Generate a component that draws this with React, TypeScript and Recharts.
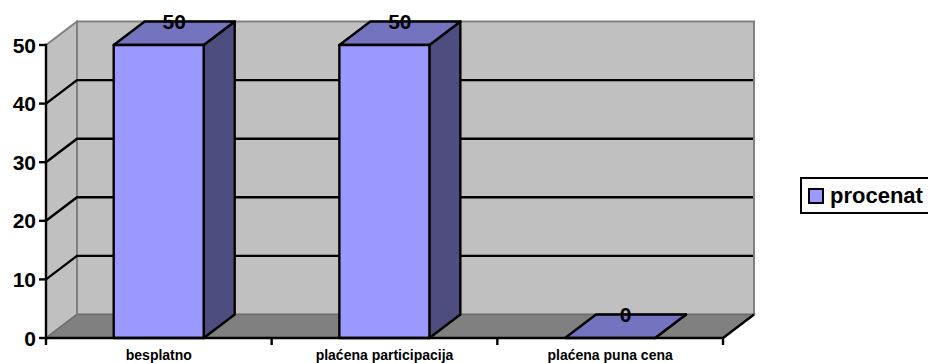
import React from 'react';
import * as Recharts from 'recharts';
import { BarChart, Bar, XAxis, YAxis, CartesianGrid, Legend, LabelList, usePlotArea } from 'recharts';

const ZLayer: any = (Recharts as any).ZIndexLayer;

const categories = ['besplatno', 'plaćena participacija', 'plaćena puna cena'];
const procenat = [50, 50, 0];
const yTicks = [0, 10, 20, 30, 40, 50];
const gridValues = [10, 20, 30, 40];
const rows = categories.map((name, i) => ({ name, procenat: procenat[i] }));

const DX = 31;
const DY = -23.5;
const LW = 2.4;
const FONT = '"Liberation Sans", Arial, sans-serif';

const Walls = () => {
  const a = usePlotArea();
  if (!a) return null;
  const { x, y, width: w, height: h } = a;
  const b = y + h;
  const r = x + w;
  const g = (
    <g>
      <polygon points={`${x},${y} ${x + DX},${y + DY} ${x + DX},${b + DY} ${x},${b}`} fill="#c0c0c0" stroke="#808080" strokeWidth={2} />
      <polygon points={`${x + DX},${y + DY} ${r + DX},${y + DY} ${r + DX},${b + DY} ${x + DX},${b + DY}`} fill="#c0c0c0" stroke="#808080" strokeWidth={2} />
      <polygon points={`${x},${b} ${x + DX},${b + DY} ${r + DX},${b + DY} ${r},${b}`} fill="#808080" stroke="#6e6e6e" strokeWidth={1.5} />
      <line x1={r} y1={b} x2={r + DX} y2={b + DY} stroke="#000" strokeWidth={LW} />
    </g>
  );
  return ZLayer ? <ZLayer zIndex={-200}>{g}</ZLayer> : g;
};

const FrontAxisLine = () => {
  const a = usePlotArea();
  if (!a) return null;
  const g = <line x1={a.x} y1={a.y - LW / 2} x2={a.x} y2={a.y + a.height + LW / 2} stroke="#000" strokeWidth={LW} />;
  return ZLayer ? <ZLayer zIndex={650}>{g}</ZLayer> : g;
};

const gridLine = (p: any) => {
  const { x1, x2, y1 } = p;
  return (
    <polyline
      key={p.key}
      points={`${x1},${y1} ${x1 + DX},${y1 + DY} ${x2 + DX - 1},${y1 + DY}`}
      fill="none"
      stroke="#000"
      strokeWidth={LW}
    />
  );
};

const Box3D = (p: any) => {
  const { x, y, width: w, height: h } = p;
  const r = x + w;
  const b = y + h;
  return (
    <g stroke="#000" strokeWidth={LW} strokeLinejoin="round">
      <polygon points={`${r},${y} ${r + DX},${y + DY} ${r + DX},${b + DY} ${r},${b}`} fill="#4d4d80" />
      <polygon points={`${x},${y} ${x + DX},${y + DY} ${r + DX},${y + DY} ${r},${y}`} fill="#7373bf" />
      <rect x={x} y={y} width={w} height={h} fill="#9999ff" />
    </g>
  );
};

const ValueLabel = (p: any) => {
  const { x, y, width: w, value } = p;
  return (
    <text
      x={x + w / 2 + DX / 2}
      y={y + DY}
      textAnchor="middle"
      dominantBaseline="central"
      fontFamily={FONT}
      fontWeight="bold"
      fontSize={21}
      fill="#000"
    >
      {value}
    </text>
  );
};

const CategoryTick = (p: any) => {
  const { x, payload, width, axisY } = p;
  const band = width / categories.length;
  const last = payload.index === categories.length - 1;
  return (
    <g>
      <line x1={x - band / 2} y1={axisY} x2={x - band / 2} y2={axisY + 7} stroke="#000" strokeWidth={LW} />
      {last && <line x1={x + band / 2} y1={axisY} x2={x + band / 2} y2={axisY + 7} stroke="#000" strokeWidth={LW} />}
      <text x={x} y={axisY + 17} textAnchor="middle" dominantBaseline="central" fontFamily={FONT} fontWeight="bold" fontSize={14} fill="#000">
        {payload.value}
      </text>
    </g>
  );
};

const ValueTick = (p: any) => {
  const { y, payload, axisX } = p;
  return (
    <g>
      <line x1={axisX - 7} y1={y} x2={axisX} y2={y} stroke="#000" strokeWidth={LW} />
      <text x={axisX - 10} y={y} textAnchor="end" dominantBaseline="central" fontFamily={FONT} fontWeight="bold" fontSize={21} fill="#000">
        {payload.value}
      </text>
    </g>
  );
};

const LegendBox = () => (
  <div
    style={{
      boxSizing: 'border-box',
      width: 140,
      height: 37,
      border: '2px solid #000',
      background: '#fff',
      display: 'flex',
      alignItems: 'center',
      fontFamily: FONT,
      fontWeight: 'bold',
      fontSize: 22,
      color: '#000',
    }}
  >
    <span style={{ boxSizing: 'border-box', width: 16, height: 16, marginLeft: 6, marginRight: 6, border: '2px solid #000', background: '#9999ff' }} />
    procenat
  </div>
);

export default function App() {
  return (
    <div style={{ position: 'absolute', left: 0, top: 0, width: 928, height: 363, overflow: 'hidden' }}>
      <BarChart width={928} height={363} data={rows} margin={{ top: 45, right: 205, bottom: 0, left: 0 }} barCategoryGap="30%">
        <Walls />
        <CartesianGrid vertical={false} horizontalValues={gridValues} horizontal={gridLine} />
        <XAxis
          dataKey="name"
          height={25}
          interval={0}
          tickLine={false}
          stroke="#000"
          strokeWidth={LW}
          tick={<CategoryTick axisY={338} />}
        />
        <YAxis
          width={46}
          domain={[0, 50]}
          ticks={yTicks}
          tickLine={false}
          axisLine={false}
          tick={<ValueTick axisX={46} />}
        />
        <Bar dataKey="procenat" isAnimationActive={false} shape={<Box3D />} fill="#9999ff">
          <LabelList dataKey="procenat" content={<ValueLabel />} />
        </Bar>
        <FrontAxisLine />
        <Legend
          layout="horizontal"
          verticalAlign="middle"
          align="center"
          content={<LegendBox />}
          wrapperStyle={{ position: 'absolute', left: 800, top: 177, width: 140, height: 37, bottom: 'auto', right: 'auto' }}
        />
      </BarChart>
    </div>
  );
}
